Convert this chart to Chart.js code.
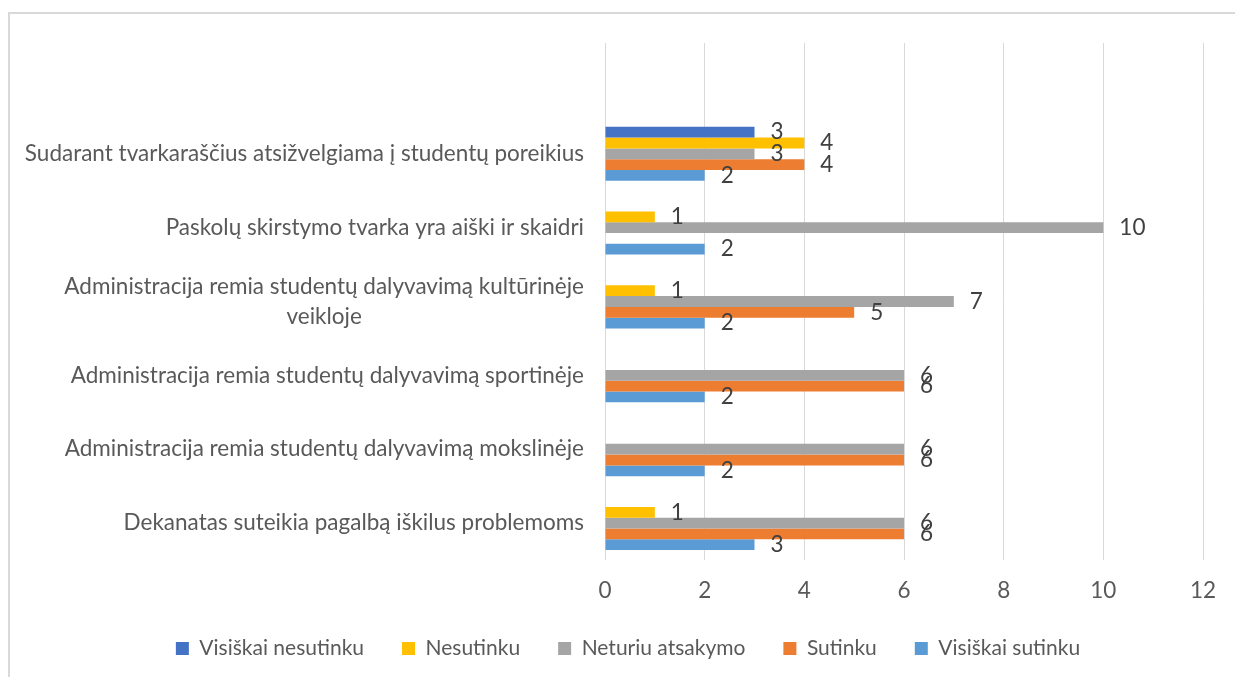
<!DOCTYPE html>
<html>
<head>
<meta charset="utf-8">
<script src="https://cdn.jsdelivr.net/npm/chart.js@4"></script>
<style>
  body { margin: 0; background: #fff; overflow: hidden; }
  #box {
    position: absolute; left: 8px; top: 12px; width: 1227px; height: 665px;
    border-left: 2px solid #D9D9D9; border-top: 2px solid #D9D9D9; box-sizing: border-box;
  }
</style>
</head>
<body>
<div id="box"><canvas id="apklausa"></canvas></div>
<script>
// categories top to bottom (first row is empty in the original sheet)
var categories = [
  '',
  'Sudarant tvarkaraščius atsižvelgiama į studentų poreikius',
  'Paskolų skirstymo tvarka yra aiški ir skaidri',
  ['Administracija remia studentų dalyvavimą kultūrinėje', 'veikloje'],
  'Administracija remia studentų dalyvavimą sportinėje',
  'Administracija remia studentų dalyvavimą mokslinėje',
  'Dekanatas suteikia pagalbą iškilus problemoms'
];

// answers per category
var visiskaiNesutinku = [null, 3, null, null, null, null, null];
var nesutinku         = [null, 4, 1, 1, null, null, 1];
var neturiuAtsakymo   = [null, 3, 10, 7, 6, 6, 6];
var sutinku           = [null, 4, null, 5, 6, 6, 6];
var visiskaiSutinku   = [null, 2, 2, 2, 2, 2, 3];

var xTicks = [0, 2, 4, 6, 8, 10, 12];

var FONT = 'Lato';

// draws the number next to every bar
var valueLabels = {
  id: 'valueLabels',
  afterDatasetsDraw: function(chart) {
    var ctx = chart.ctx;
    ctx.save();
    ctx.font = '22.5px ' + FONT;
    ctx.fillStyle = '#404040';
    ctx.textAlign = 'left';
    ctx.textBaseline = 'middle';
    chart.data.datasets.forEach(function(ds, i) {
      var meta = chart.getDatasetMeta(i);
      meta.data.forEach(function(bar, j) {
        if (ds.data[j] === null) return;
        ctx.fillText(ds.data[j], bar.x + 16, bar.y);
      });
    });
    ctx.restore();
  }
};

// axis labels: categories (wrapped lines centred like in excel) and x numbers
var axisLabels = {
  id: 'axisLabels',
  afterDraw: function(chart) {
    var ctx = chart.ctx;
    var y = chart.scales.y;
    var x = chart.scales.x;
    ctx.save();
    ctx.font = '22.5px ' + FONT;
    ctx.fillStyle = '#595959';
    ctx.textBaseline = 'middle';
    ctx.textAlign = 'center';
    categories.forEach(function(lbl, i) {
      var lines = Array.isArray(lbl) ? lbl : [lbl];
      var py = y.getPixelForValue(i);
      var right = y.right - 21;
      var maxW = 0;
      lines.forEach(function(l) { maxW = Math.max(maxW, ctx.measureText(l).width); });
      var lh = 30;
      lines.forEach(function(l, k) {
        var ly = py + (k - (lines.length - 1) / 2) * lh;
        ctx.fillText(l, right - maxW / 2, ly);
      });
    });
    xTicks.forEach(function(v) {
      ctx.fillText(String(v), x.getPixelForValue(v), chart.chartArea.bottom + 31);
    });
    ctx.restore();
  }
};

var ctx = document.getElementById('apklausa').getContext('2d');
var chart = new Chart(ctx, {
  type: 'bar',
  data: {
    labels: categories,
    datasets: [
      { label: 'Visiškai nesutinku', data: visiskaiNesutinku, backgroundColor: '#4472C4' },
      { label: 'Nesutinku', data: nesutinku, backgroundColor: '#FFC000' },
      { label: 'Neturiu atsakymo', data: neturiuAtsakymo, backgroundColor: '#A5A5A5' },
      { label: 'Sutinku', data: sutinku, backgroundColor: '#ED7D31' },
      { label: 'Visiškai sutinku', data: visiskaiSutinku, backgroundColor: '#5B9BD5' }
    ]
  },
  options: {
    indexAxis: 'y',
    responsive: true,
    maintainAspectRatio: false,
    animation: false,
    categoryPercentage: 0.73,
    barPercentage: 1,
    layout: { padding: { top: 29, right: 32, left: 43, bottom: 8 } },
    scales: {
      x: {
        min: 0,
        max: 12,
        afterBuildTicks: function(scale) {
          scale.ticks = xTicks.map(function(v) { return { value: v }; });
        },
        afterFit: function(scale) { scale.height = 40; },
        grid: { color: '#D9D9D9', drawTicks: false },
        border: { display: false },
        ticks: { padding: 0, color: 'rgba(0,0,0,0)', font: { family: FONT, size: 8 } }
      },
      y: {
        afterFit: function(scale) { scale.width = 552; },
        grid: { display: false },
        border: { display: false },
        ticks: { color: 'rgba(0,0,0,0)', font: { family: FONT, size: 8 } }
      }
    },
    plugins: {
      legend: {
        position: 'bottom',
        labels: {
          boxWidth: 13,
          boxHeight: 13,
          padding: 38,
          color: '#595959',
          font: { family: FONT, size: 21 }
        }
      },
      tooltip: { enabled: false }
    }
  },
  plugins: [valueLabels, axisLabels]
});
</script>
</body>
</html>
